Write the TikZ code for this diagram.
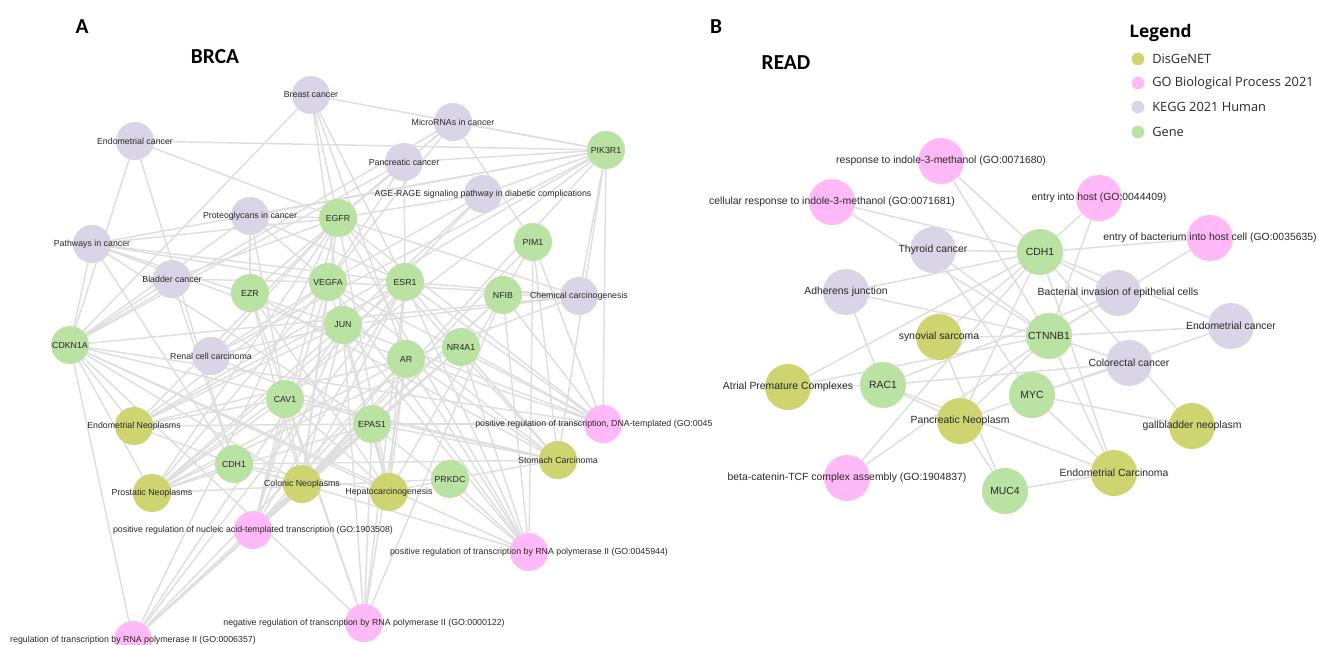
\documentclass[tikz,border=0pt]{standalone}
\usepackage{fontspec}
\setmainfont{Liberation Sans}
\newfontfamily\titlefont{Carlito}
\newfontfamily\legfont{Open Sans}
\definecolor{cdis}{RGB}{205,212,112}
\definecolor{cgo}{RGB}{255,185,247}
\definecolor{ckegg}{RGB}{217,213,230}
\definecolor{cgene}{RGB}{186,226,162}
\definecolor{cedge}{RGB}{222,222,222}
\definecolor{ctxt}{RGB}{40,40,40}
\pgfdeclarelayer{bg}
\pgfsetlayers{bg,main}
\begin{document}
\begin{tikzpicture}[x=0.75pt,y=-0.75pt,
  lblA/.style={font=\fontsize{6.6}{7}\selectfont,text=ctxt,inner sep=0pt},
  lblB/.style={font=\fontsize{7.8}{9}\selectfont,text=ctxt,inner sep=0pt},
  baseA/.style={circle,draw=none,minimum size=28.5pt,inner sep=0pt},
  baseB/.style={circle,draw=none,minimum size=34.5pt,inner sep=0pt},
  kA/.style={baseA,fill=ckegg,label={[lblA]center:{#1}}},
  gA/.style={baseA,fill=cgene,label={[lblA]center:{#1}}},
  dA/.style={baseA,fill=cdis,label={[lblA]center:{#1}}},
  pA/.style={baseA,fill=cgo,label={[lblA]center:{#1}}},
  kB/.style={baseB,fill=ckegg,label={[lblB]center:{#1}}},
  gB/.style={baseB,fill=cgene,label={[lblB]center:{#1}}},
  dB/.style={baseB,fill=cdis,label={[lblB]center:{#1}}},
  pB/.style={baseB,fill=cgo,label={[lblB]center:{#1}}},
  edge/.style={draw=cedge,line width=1.1pt},
  ttl/.style={font=\titlefont\bfseries\fontsize{16}{18}\selectfont,inner sep=0pt},
  legdot/.style={circle,draw=none,minimum size=9.5pt,inner sep=0pt},
  legtxt/.style={anchor=west,font=\legfont\fontsize{9.6}{11}\selectfont,text=ctxt,inner sep=0pt}
]
\useasboundingbox (0,0) rectangle (1319,644);

% titles
\node[ttl] (tA) at (82,27) {A};
\node[ttl] (tBRCA) at (215,57) {BRCA};
\node[ttl] (tB) at (716,27) {B};
\node[ttl] (tREAD) at (786,63) {READ};

% ---------- Panel A nodes ----------
\node[kA=Breast cancer] (brc) at (311,95) {};
\node[kA=MicroRNAs in cancer] (mir) at (453,122) {};
\node[kA=Endometrial cancer] (endc) at (135,141) {};
\node[gA=PIK3R1] (pik) at (606,150) {};
\node[kA=Pancreatic cancer] (panc) at (404,162) {};
\node[kA=AGE-RAGE signaling pathway in diabetic complications] (age) at (483,194) {};
\node[kA=Proteoglycans in cancer] (prot) at (250,216) {};
\node[gA=EGFR] (egfr) at (338,218) {};
\node[gA=PIM1] (pim) at (533,242) {};
\node[kA=Pathways in cancer] (path) at (92,244) {};
\node[kA=Bladder cancer] (blad) at (172,279) {};
\node[gA=EZR] (ezr) at (250,293) {};
\node[gA=VEGFA] (vegfa) at (328,282) {};
\node[gA=ESR1] (esr) at (405,282) {};
\node[gA=NFIB] (nfib) at (503,295) {};
\node[kA=Chemical carcinogenesis] (chem) at (579,296) {};
\node[gA=JUN] (jun) at (343,325) {};
\node[gA=CDKN1A] (cdkn) at (70,345) {};
\node[kA=Renal cell carcinoma] (renal) at (211,356) {};
\node[gA=AR] (ar) at (406,359) {};
\node[gA=NR4A1] (nr4a) at (461,347) {};
\node[gA=CAV1] (cav) at (285,399) {};
\node[dA=Endometrial Neoplasms] (endn) at (134,426) {};
\node[gA=EPAS1] (epas) at (372,424) {};
\node[baseA,fill=cgo] (gdna) at (603,424) {};
\node[lblA,anchor=west] (gdnat) at (475,424) {positive regulation of transcription, DNA-templated (GO:0045};
\node[dA=Stomach Carcinoma] (stom) at (558,460) {};
\node[gA=CDH1] (cdha) at (234,464) {};
\node[dA=Colonic Neoplasms] (colon) at (302,484) {};
\node[dA=Hepatocarcinogenesis] (hepa) at (389,492) {};
\node[gA=PRKDC] (prkdc) at (450,479) {};
\node[dA=Prostatic Neoplasms] (prost) at (152,493) {};
\node[pA=positive regulation of nucleic acid-templated transcription (GO:1903508)] (gnuc) at (253,530) {};
\node[pA=positive regulation of transcription by RNA polymerase II (GO:0045944)] (gpol) at (529,552) {};
\node[pA=negative regulation of transcription by RNA polymerase II (GO:0000122)] (gneg) at (364,623) {};
\node[pA=regulation of transcription by RNA polymerase II (GO:0006357)] (greg) at (133,640) {};

% ---------- Panel B nodes ----------
\node[pB=response to indole-3-methanol (GO:0071680)] (rind) at (941,161) {};
\node[pB=cellular response to indole-3-methanol (GO:0071681)] (crind) at (832,202) {};
\node[pB=entry into host (GO:0044409)] (host) at (1099,198) {};
\node[pB=entry of bacterium into host cell (GO:0035635)] (bact) at (1210,238) {};
\node[gB=CDH1] (cdhb) at (1040,252) {};
\node[kB=Thyroid cancer] (thy) at (933,250) {};
\node[kB=Adherens junction] (adh) at (846,292) {};
\node[kB=Bacterial invasion of epithelial cells] (binv) at (1118,293) {};
\node[kB=Endometrial cancer] (endcb) at (1231,326) {};
\node[dB=synovial sarcoma] (syn) at (939,337) {};
\node[gB=CTNNB1] (ctnn) at (1049,336) {};
\node[kB=Colorectal cancer] (colr) at (1129,363) {};
\node[gB=RAC1] (rac) at (883,385) {};
\node[gB=MYC] (myc) at (1032,395) {};
\node[dB=Atrial Premature Complexes] (apc) at (788,387) {};
\node[dB=Pancreatic Neoplasm] (pneo) at (960,421) {};
\node[dB=gallbladder neoplasm] (gall) at (1192,426) {};
\node[dB=Endometrial Carcinoma] (endca) at (1114,473) {};
\node[pB=beta-catenin-TCF complex assembly (GO:1904837)] (btcf) at (847,478) {};
\node[gB=MUC4] (muc) at (1005,491) {};

% ---------- Legend ----------
\node[anchor=west,font=\legfont\bfseries\fontsize{13}{15}\selectfont,inner sep=0pt] (legt) at (1129,33) {Legend};
\node[legdot,fill=cdis] (l1) at (1138,59) {};
\node[legtxt] (l1t) at (1152,59) {DisGeNET};
\node[legdot,fill=cgo] (l2) at (1138,83) {};
\node[legtxt] (l2t) at (1152,83) {GO Biological Process 2021};
\node[legdot,fill=ckegg] (l3) at (1138,107) {};
\node[legtxt] (l3t) at (1152,107) {KEGG 2021 Human};
\node[legdot,fill=cgene] (l4) at (1138,132) {};
\node[legtxt] (l4t) at (1152,132) {Gene};

% ---------- Edges ----------
\begin{pgfonlayer}{bg}
\foreach \t/\gs in {
  brc/{pik,egfr,esr,jun,cdkn,ar},
  mir/{pik,pim,egfr,vegfa,cdkn,ezr},
  endc/{pik,egfr,cdkn,cdha},
  panc/{pik,egfr,vegfa,cdkn,esr},
  age/{pik,vegfa,jun,egfr,cav},
  prot/{pik,egfr,vegfa,esr,ezr,cav,cdkn},
  path/{pik,egfr,vegfa,esr,jun,ar,cdkn,cdha,epas},
  blad/{egfr,vegfa,cdkn,cdha},
  chem/{pik,egfr,esr,ar,jun,cdkn,nfib,vegfa},
  renal/{pik,vegfa,jun,epas,egfr},
  endn/{pik,egfr,esr,cdha,cdkn,ar,vegfa,jun,cav,epas},
  prost/{ar,egfr,cdkn,cdha,esr,vegfa,cav,jun,pik,epas,nr4a,prkdc},
  colon/{egfr,cdkn,cdha,vegfa,esr,cav,jun,pik,ezr,epas,nr4a,pim},
  hepa/{egfr,cdkn,cdha,vegfa,esr,jun,ar,epas,ezr,cav,pim,prkdc},
  stom/{egfr,cdha,cdkn,vegfa,esr,ar,cav,pik,ezr,epas,nr4a,pim,prkdc},
  gdna/{esr,ar,jun,nfib,nr4a,epas,pik,egfr,vegfa,cdkn,pim},
  gnuc/{esr,ar,jun,nfib,nr4a,epas,vegfa,egfr,cav},
  gpol/{esr,ar,jun,nfib,nr4a,epas,vegfa,egfr,cdkn,pim,prkdc,cdha},
  gneg/{esr,ar,jun,nfib,cdkn,epas,cav,ezr},
  greg/{esr,ar,jun,nfib,nr4a,epas,cdkn,egfr},
  rind/{cdhb,ctnn},
  crind/{cdhb,ctnn},
  host/{cdhb,ctnn},
  bact/{cdhb,ctnn},
  thy/{cdhb,ctnn,myc},
  adh/{cdhb,ctnn,rac},
  binv/{cdhb,ctnn,rac},
  endcb/{cdhb,ctnn,myc},
  syn/{cdhb,ctnn,muc},
  colr/{ctnn,myc,rac},
  apc/{rac,ctnn,cdhb},
  pneo/{cdhb,ctnn,myc,rac,muc},
  gall/{myc,cdhb},
  endca/{muc,myc,ctnn,cdhb,rac},
  btcf/{ctnn,cdhb}}{
  \foreach \g in \gs {\draw[edge] (\t.center) -- (\g.center);}
}
\end{pgfonlayer}
\end{tikzpicture}
\end{document}
